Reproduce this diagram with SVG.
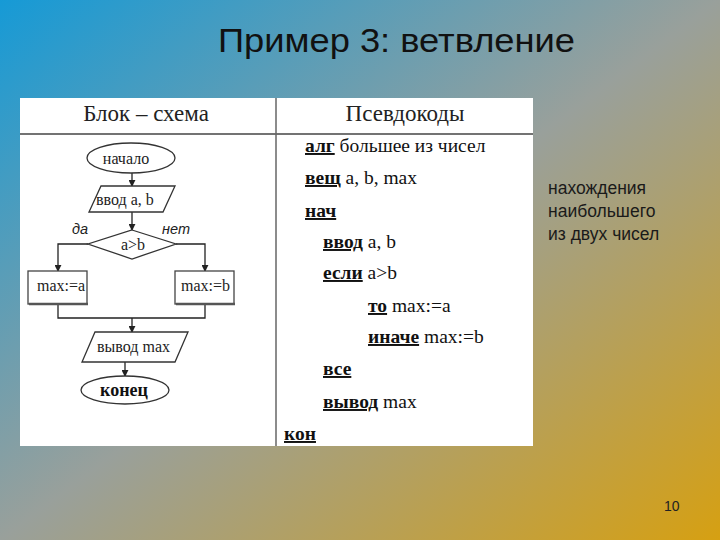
<svg xmlns="http://www.w3.org/2000/svg" width="720" height="540" viewBox="0 0 720 540">
<defs>
<linearGradient id="bg" x1="0" y1="0" x2="1" y2="1">
<stop offset="0" stop-color="#169ad6"/>
<stop offset="0.5" stop-color="#99a09b"/>
<stop offset="1" stop-color="#d6a012"/>
</linearGradient>
<marker id="arr" viewBox="0 0 8 8" refX="7" refY="4" markerWidth="7" markerHeight="7" markerUnits="userSpaceOnUse" orient="auto">
<path d="M0,0 L8,4 L0,8 z" fill="#222"/>
</marker>
</defs>
<style>
.title{font-family:"Liberation Sans",Arial,sans-serif;font-size:34px;fill:#111}
.side{font-family:"Liberation Sans",Arial,sans-serif;font-size:17.5px;fill:#1a1a1a}
.hdr{font-family:"Liberation Serif","Times New Roman",serif;font-size:23px;fill:#222}
.fc{font-family:"Liberation Serif","Times New Roman",serif;font-size:16px;fill:#222}
.fcb{font-family:"Liberation Serif","Times New Roman",serif;font-size:18px;fill:#111;font-weight:bold}
.lbl{font-family:"Liberation Sans",Arial,sans-serif;font-size:14.5px;font-style:italic;fill:#222}
.pc{font-family:"Liberation Serif","Times New Roman",serif;font-size:19.5px;fill:#111}
.kw{font-weight:bold;text-decoration:underline}
.shape{fill:#fff;stroke:#333;stroke-width:1.3}
.box{fill:#fff;stroke:#444;stroke-width:1.3}
.line{fill:none;stroke:#222;stroke-width:1.3}
</style>
<rect x="0" y="0" width="720" height="540" fill="url(#bg)"/>
<text class="title" x="218" y="52" textLength="357" lengthAdjust="spacingAndGlyphs">Пример 3: ветвление</text>

<g id="table">
<rect x="20" y="98" width="513" height="348" fill="#fff"/>
<line x1="20" y1="134" x2="533" y2="134" stroke="#444" stroke-width="1.5"/>
<line x1="276" y1="98" x2="276" y2="446" stroke="#666" stroke-width="1.5"/>
<text class="hdr" x="146" y="121" text-anchor="middle">Блок – схема</text>
<text class="hdr" x="405" y="121" text-anchor="middle">Псевдокоды</text>
</g>

<g id="connectors">
<line class="line" x1="132" y1="172" x2="132" y2="186" marker-end="url(#arr)"/>
<line class="line" x1="132" y1="212" x2="132" y2="230" marker-end="url(#arr)"/>
<polyline class="line" points="88,244 58,244 58,271" marker-end="url(#arr)"/>
<polyline class="line" points="176,244 205,244 205,271" marker-end="url(#arr)"/>
<polyline class="line" points="58,304 58,318 205,318 205,304"/>
<line class="line" x1="132" y1="318" x2="132" y2="332" marker-end="url(#arr)"/>
<line class="line" x1="125" y1="362" x2="125" y2="376" marker-end="url(#arr)"/>
<text class="lbl" x="72" y="234">да</text>
<text class="lbl" x="162" y="234">нет</text>
</g>

<g id="start">
<ellipse class="shape" cx="131" cy="158" rx="44" ry="15"/>
<text class="fc" x="126" y="164" text-anchor="middle" font-size="20">начало</text>
</g>
<g id="input">
<polygon class="shape" points="101,186 175,186 163,212 89,212"/>
<text class="fc" x="96" y="205">ввод a, b</text>
</g>
<g id="cond">
<polygon class="shape" points="132,230 176,244 132,259 88,244"/>
<text class="fc" x="133" y="250" text-anchor="middle">a&gt;b</text>
</g>
<g id="maxa">
<rect class="box" x="28" y="271" width="59" height="33"/>
<line x1="29" y1="304" x2="88" y2="304" stroke="#555" stroke-width="2.5"/>
<text class="fc" x="37" y="291">max:=a</text>
</g>
<g id="maxb">
<rect class="box" x="175" y="271" width="59" height="33"/>
<line x1="176" y1="304" x2="235" y2="304" stroke="#555" stroke-width="2.5"/>
<text class="fc" x="181" y="291">max:=b</text>
</g>
<g id="output">
<polygon class="shape" points="95,332 188,332 175,362 82,362"/>
<text class="fc" x="97" y="352">вывод max</text>
</g>
<g id="end">
<ellipse class="shape" cx="125" cy="390" rx="44" ry="14"/>
<text class="fcb" x="124" y="396" text-anchor="middle">конец</text>
</g>

<g id="pseudocode">
<text class="pc" x="305" y="152"><tspan class="kw">алг</tspan> большее из чисел</text>
<text class="pc" x="305" y="184"><tspan class="kw">вещ</tspan> a, b, max</text>
<text class="pc" x="305" y="217"><tspan class="kw">нач</tspan></text>
<text class="pc" x="323" y="248"><tspan class="kw">ввод</tspan> a, b</text>
<text class="pc" x="323" y="279"><tspan class="kw">если</tspan> a&gt;b</text>
<text class="pc" x="368" y="312"><tspan class="kw">то</tspan> max:=a</text>
<text class="pc" x="368" y="343"><tspan class="kw">иначе</tspan> max:=b</text>
<text class="pc" x="323" y="375"><tspan class="kw">все</tspan></text>
<text class="pc" x="323" y="408"><tspan class="kw">вывод</tspan> max</text>
<text class="pc" x="284" y="440"><tspan class="kw">кон</tspan></text>
</g>

<g id="note">
<text class="side" x="548" y="194">нахождения</text>
<text class="side" x="548" y="217">наибольшего</text>
<text class="side" x="548" y="240">из двух чисел</text>
</g>
<text x="664" y="511" font-family="Liberation Sans,Arial,sans-serif" font-size="14" fill="#222">10</text>
</svg>
